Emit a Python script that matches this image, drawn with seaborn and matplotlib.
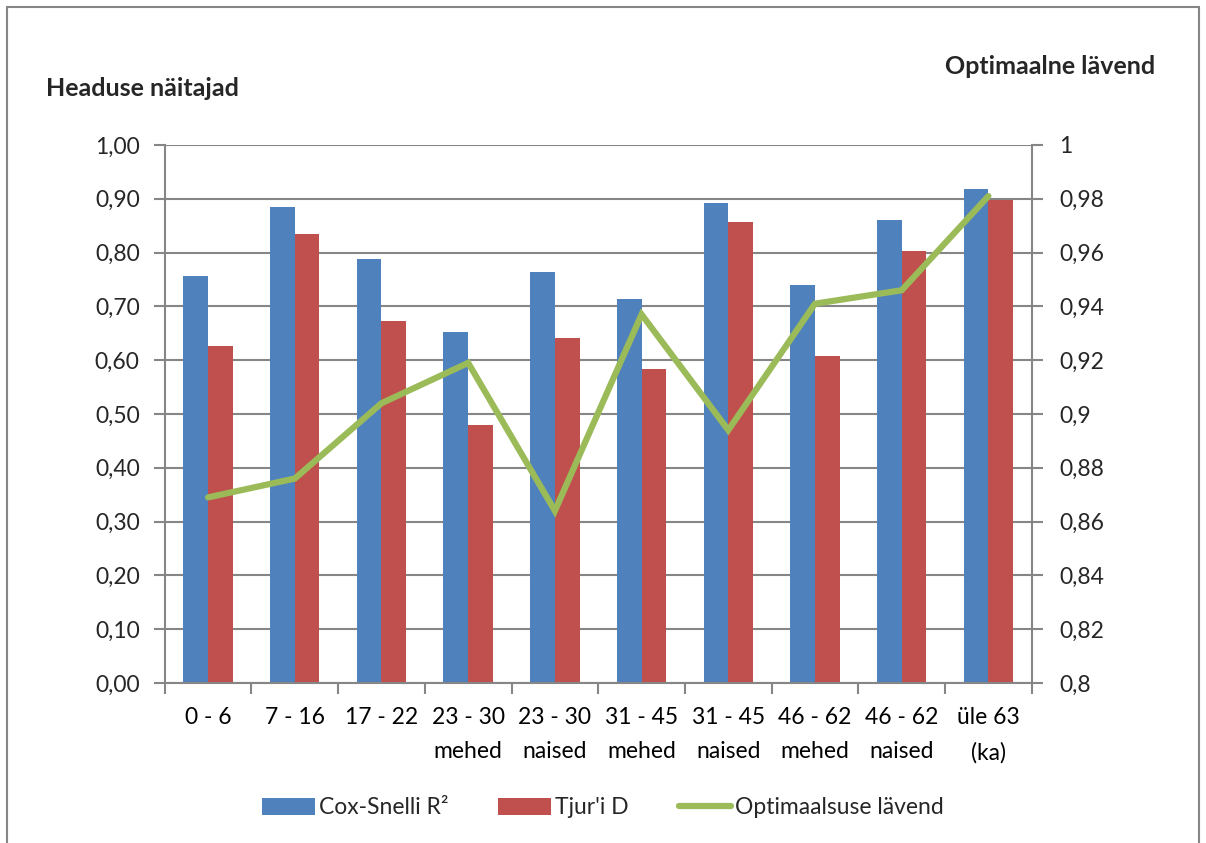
import numpy as np
import pandas as pd
import matplotlib
matplotlib.use("Agg")
import matplotlib.pyplot as plt
from matplotlib.patches import Patch, Rectangle
from matplotlib.lines import Line2D
import seaborn as sns

# Age groups (two-line labels) and model quality measures
categories = ["0 - 6", "7 - 16", "17 - 22", "23 - 30\nmehed", "23 - 30\nnaised",
              "31 - 45\nmehed", "31 - 45\nnaised", "46 - 62\nmehed", "46 - 62\nnaised",
              "üle 63\n(ka)"]
cox_snelli = [0.757, 0.884, 0.788, 0.653, 0.764, 0.714, 0.892, 0.739, 0.860, 0.918]
tjur_d = [0.627, 0.835, 0.673, 0.480, 0.641, 0.583, 0.856, 0.608, 0.803, 0.898]
threshold = [0.869, 0.876, 0.904, 0.919, 0.864, 0.937, 0.894, 0.941, 0.946, 0.981]

series_names = ["Cox-Snelli R²", "Tjur'i D"]
line_name = "Optimaalsuse lävend"
left_ticks = [0.0, 0.1, 0.2, 0.3, 0.4, 0.5, 0.6, 0.7, 0.8, 0.9, 1.0]
right_ticks = [0.80, 0.82, 0.84, 0.86, 0.88, 0.90, 0.92, 0.94, 0.96, 0.98, 1.00]

BLUE = "#4F81BD"
RED = "#C0504D"
GREEN = "#9BBB59"
GRID = "#868686"
FS = 16.5
TITLE_FS = 18

sns.set_theme(style="white")
plt.rcParams["font.family"] = ["Lato", "DejaVu Sans"]

bars = pd.DataFrame({
    "grupp": categories * 2,
    "väärtus": cox_snelli + tjur_d,
    "näitaja": [series_names[0]] * len(categories) + [series_names[1]] * len(categories),
})
line_df = pd.DataFrame({"pos": np.arange(len(categories)), "lävend": threshold})

fig = plt.figure(figsize=(12.06, 8.43), dpi=100)
ax = fig.add_axes([0.1366, 0.1898, 0.7189, 0.6382])

sns.barplot(data=bars, x="grupp", y="väärtus", hue="näitaja", order=categories,
            palette=[BLUE, RED], width=0.57, gap=0, saturation=1,
            edgecolor="none", linewidth=0, ax=ax, legend=False)

ax.set_xlim(-0.5, len(categories) - 0.5)
ax.set_ylim(0, 1.0)
ax.set_yticks(left_ticks)
ax.set_yticklabels([f"{v:.2f}".replace(".", ",") for v in left_ticks], fontsize=FS)
ax.set_xlabel("")
ax.set_ylabel("")
ax.yaxis.grid(True, color=GRID, linewidth=1.5)
ax.set_axisbelow(True)

# category labels centred, tick marks on the group boundaries
ax.tick_params(axis="x", which="major", length=0, pad=17, labelsize=FS, colors="black")
ax.set_xticks(np.arange(-0.5, len(categories), 1.0), minor=True)
ax.tick_params(axis="x", which="minor", length=8, width=1.5, color=GRID, direction="out")
ax.tick_params(axis="y", length=8, width=1.5, color=GRID, direction="out", pad=10)
ax.xaxis.set_tick_params(bottom=True, which="minor")

for side in ["top", "right"]:
    ax.spines[side].set_visible(False)
for side in ["left", "bottom"]:
    ax.spines[side].set_color(GRID)
    ax.spines[side].set_linewidth(1.5)

for lbl in ax.get_xticklabels():
    lbl.set_linespacing(1.8)

ax2 = ax.twinx()
sns.lineplot(data=line_df, x="pos", y="lävend", color=GREEN, linewidth=4.5,
             ax=ax2, legend=False, solid_joinstyle="miter")
ax2.set_ylim(0.8, 1.0)
ax2.set_yticks(right_ticks)
ax2.set_yticklabels([f"{v:g}".replace(".", ",") for v in right_ticks], fontsize=FS)
ax2.set_ylabel("")
ax2.tick_params(axis="y", length=8, width=1.5, color=GRID, direction="out", pad=12)
for side in ["top", "left", "bottom"]:
    ax2.spines[side].set_visible(False)
ax2.spines["right"].set_color(GRID)
ax2.spines["right"].set_linewidth(1.5)
ax2.grid(False)

# axis headings
fig.text(46 / 1206, 1 - 88 / 843, "Headuse näitajad", fontsize=TITLE_FS, fontweight="bold",
         ha="left", va="center")
fig.text(1155 / 1206, 1 - 67 / 843, "Optimaalne lävend", fontsize=TITLE_FS, fontweight="bold",
         ha="right", va="center")

handles = [Patch(facecolor=BLUE, edgecolor="none", label=series_names[0]),
           Patch(facecolor=RED, edgecolor="none", label=series_names[1]),
           Line2D([0], [0], color=GREEN, linewidth=4.5, label=line_name)]
fig.legend(handles=handles, loc="center", bbox_to_anchor=(0.5, 1 - 808 / 843),
           ncol=3, frameon=False, fontsize=FS, handlelength=2.3, handleheight=0.75,
           handletextpad=0.15, columnspacing=2.2)

# outer chart frame
fig.patches.append(Rectangle((7 / 1206, -0.01), 1 - 14 / 1206, 1 - 7 / 843 + 0.01,
                             transform=fig.transFigure, fill=False,
                             edgecolor=GRID, linewidth=1.5))

fig.savefig("out.png", dpi=100)
